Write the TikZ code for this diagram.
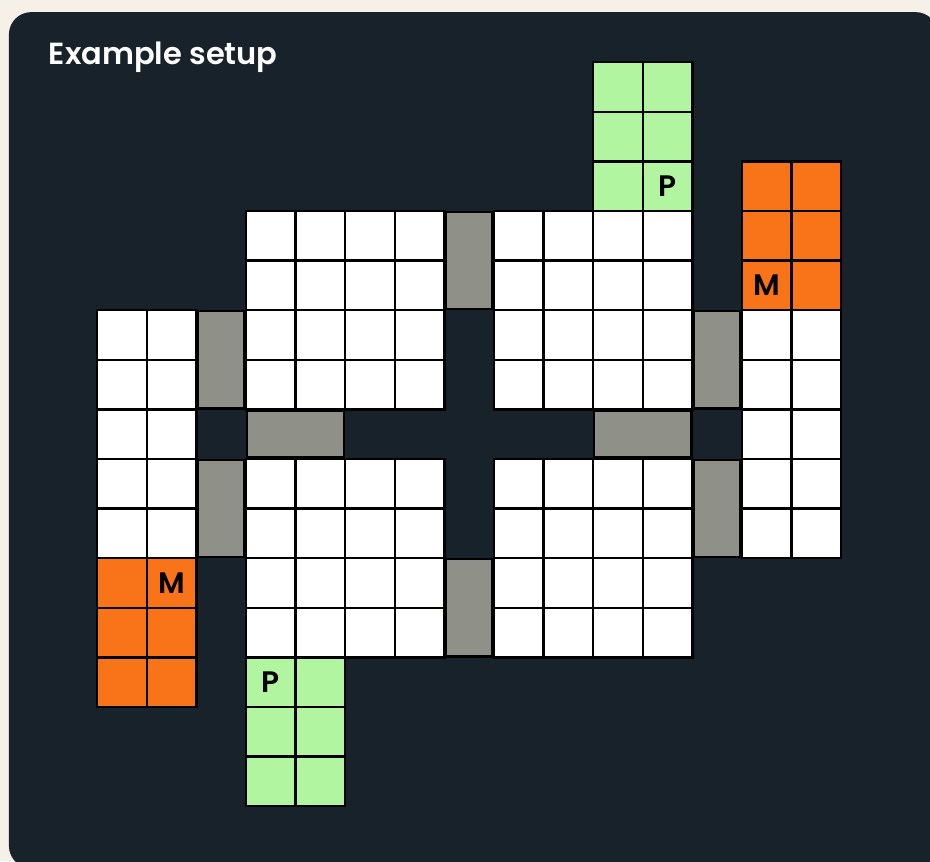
\documentclass[tikz,border=0pt]{standalone}
\usepackage{fontspec}
\newfontfamily\gridfont{Poppins}[UprightFont={* Medium}, BoldFont={* SemiBold}]
\usepackage{xcolor}
\definecolor{pagebeige}{RGB}{245,240,232}
\definecolor{boarddark}{RGB}{24,34,42}
\definecolor{wallgrey}{RGB}{143,144,136}
\definecolor{memorange}{RGB}{249,115,24}
\definecolor{procgreen}{RGB}{178,245,160}

\begin{document}
\begin{tikzpicture}[
    cell/.style={draw=black, line width=1.4pt, minimum size=1cm, inner sep=0pt, fill=white,
                 font=\gridfont\bfseries\fontsize{17}{17}\selectfont},
    memcell/.style={cell, fill=memorange},
    proccell/.style={cell, fill=procgreen},
    wall/.style={draw=black, line width=1.4pt, fill=wallgrey, inner sep=0pt},
    vwall/.style={wall, minimum width=0.94cm, minimum height=1.96cm},
    hwall/.style={wall, minimum width=1.96cm, minimum height=0.94cm},
]
    % page and board
    \useasboundingbox[fill=pagebeige] (-4.96,4.254) rectangle (13.79,-13.105);
    \fill[boarddark, rounded corners=0.45cm] (-4.78,4.01) rectangle (13.95,-13.25);
    \node[anchor=west, text=white, font=\gridfont\bfseries\fontsize{17.5}{17.5}\selectfont] (title) at (-4.1,3.1) {Example setup};

    % four 4x4 blocks
    \foreach \qx/\qy in {0/0,5/0,0/5,5/5} {
        \foreach \i in {0,...,3} {
            \foreach \j in {0,...,3} {
                \node[cell] (q\qx\qy-\i-\j) at (\qx+\i+0.5, -\qy-\j-0.5) {};
            }
        }
    }

    % walls between the blocks
    \node[vwall] (w-top) at (4.5,-1) {};
    \node[vwall] (w-bottom) at (4.5,-8) {};
    \node[vwall] (w-left1) at (-0.5,-3) {};
    \node[vwall] (w-left2) at (-0.5,-6) {};
    \node[vwall] (w-right1) at (9.5,-3) {};
    \node[vwall] (w-right2) at (9.5,-6) {};
    \node[hwall] (w-midl) at (1,-4.5) {};
    \node[hwall] (w-midr) at (8,-4.5) {};

    % left strip: 5 white rows, then memory
    \foreach \i in {-3,-2} {
        \foreach \j in {2,...,6} {
            \node[cell] (l\i-\j) at (\i+0.5, -\j-0.5) {};
        }
        \foreach \j in {7,...,9} {
            \node[memcell] (lm\i-\j) at (\i+0.5, -\j-0.5) {};
        }
    }
    \node[memcell] (lm-2-7) at (-1.5,-7.5) {M};

    % right strip: memory on top, then 5 white rows
    \foreach \i in {10,11} {
        \foreach \j in {-1,...,1} {
            \node[memcell] (rm\i-\j) at (\i+0.5, -\j-0.5) {};
        }
        \foreach \j in {2,...,6} {
            \node[cell] (r\i-\j) at (\i+0.5, -\j-0.5) {};
        }
    }
    \node[memcell] (rm10-1) at (10.5,-1.5) {M};

    % processor blocks
    \foreach \i in {7,8} {
        \foreach \j in {-3,...,-1} {
            \node[proccell] (tp\i\j) at (\i+0.5, -\j-0.5) {};
        }
    }
    \node[proccell] (tp8-1) at (8.5,0.5) {P};
    \foreach \i in {0,1} {
        \foreach \j in {9,...,11} {
            \node[proccell] (bp\i-\j) at (\i+0.5, -\j-0.5) {};
        }
    }
    \node[proccell] (bp0-9) at (0.5,-9.5) {P};
\end{tikzpicture}
\end{document}
